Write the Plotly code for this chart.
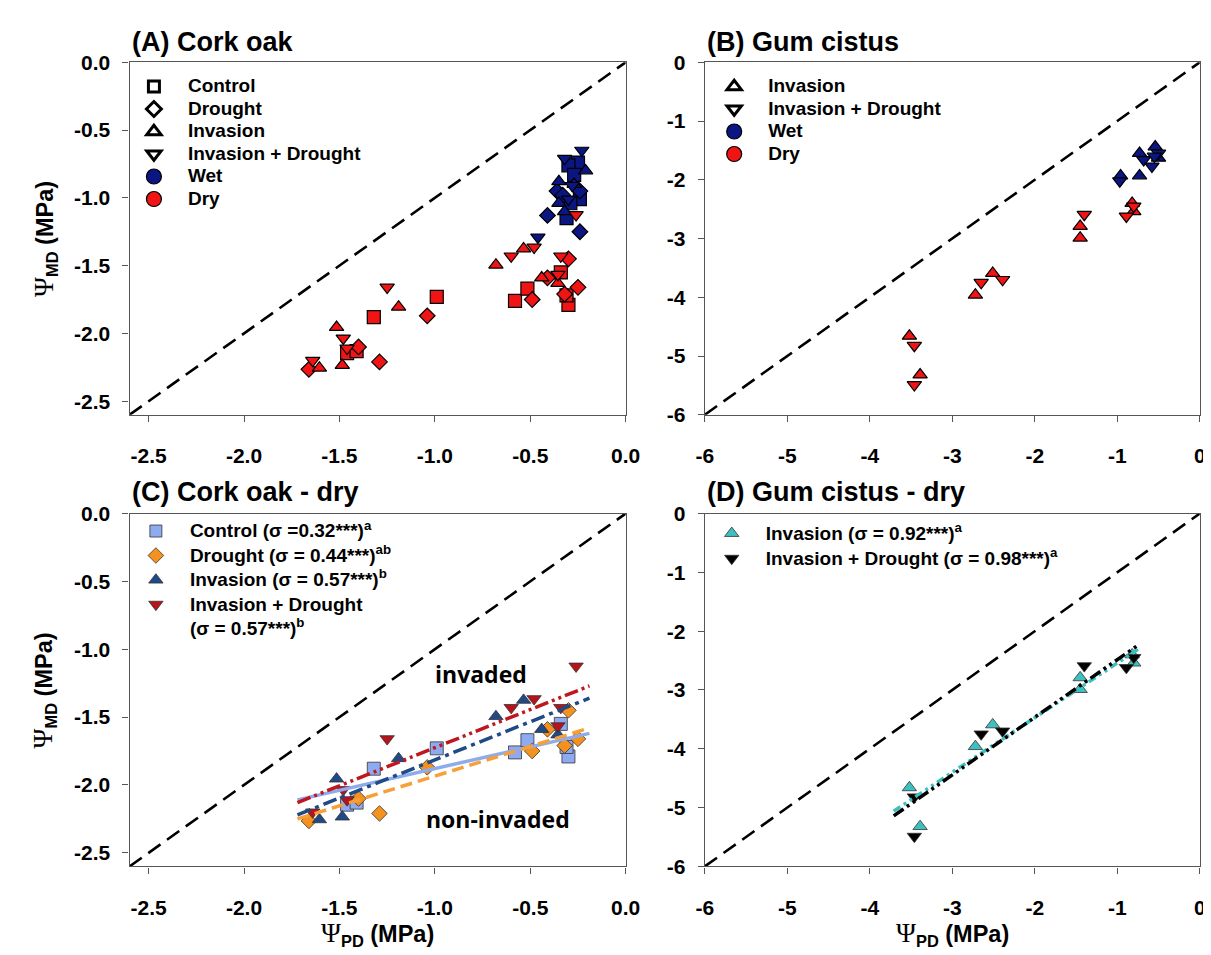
import plotly.graph_objects as go

FONT = "Liberation Sans, Arial, sans-serif"
W, H = 1211, 955

# ---------------- data ----------------
# 1:1 reference lines
ref_cork = [-2.6, 0.0]
ref_gum = [-6.0, 0.0]

# tick values / labels
cork_ticks = [-2.5, -2.0, -1.5, -1.0, -0.5, 0.0]
cork_ticktext = ["-2.5", "-2.0", "-1.5", "-1.0", "-0.5", "0.0"]
gum_ticks = [-6, -5, -4, -3, -2, -1, 0]
gum_ticktext = ["-6", "-5", "-4", "-3", "-2", "-1", "0"]

# Cork oak, wet season
cork_wet_control_x = [-0.25, -0.30, -0.27, -0.24, -0.29, -0.31]
cork_wet_control_y = [-0.74, -0.76, -0.83, -1.01, -1.04, -1.15]
cork_wet_drought_x = [-0.36, -0.33, -0.24, -0.41, -0.24]
cork_wet_drought_y = [-0.95, -0.98, -0.95, -1.13, -1.25]
cork_wet_invasion_x = [-0.21, -0.35, -0.35, -0.32, -0.27]
cork_wet_invasion_y = [-0.80, -0.88, -1.04, -1.10, -0.90]
cork_wet_invdrought_x = [-0.23, -0.32, -0.28, -0.46, -0.30]
cork_wet_invdrought_y = [-0.65, -0.71, -0.91, -1.29, -1.01]

# Cork oak, dry season
cork_dry_control_x = [-0.99, -1.32, -1.46, -1.41, -0.58, -0.515, -0.34, -0.30, -0.31]
cork_dry_control_y = [-1.73, -1.88, -2.145, -2.13, -1.76, -1.67, -1.55, -1.79, -1.72]
cork_dry_drought_x = [-1.04, -1.40, -1.29, -1.66, -0.30, -0.41, -0.49, -0.32, -0.25]
cork_dry_drought_y = [-1.87, -2.10, -2.21, -2.265, -1.45, -1.59, -1.75, -1.71, -1.66]
cork_dry_invasion_x = [-1.19, -1.515, -1.485, -1.605, -0.68, -0.535, -0.44, -0.355]
cork_dry_invasion_y = [-1.805, -1.955, -2.235, -2.255, -1.495, -1.375, -1.59, -1.63]
cork_dry_invdrought_x = [-1.25, -1.48, -1.46, -1.64, -0.26, -0.60, -0.48, -0.34, -0.355]
cork_dry_invdrought_y = [-1.66, -2.035, -2.11, -2.20, -1.125, -1.43, -1.365, -1.43, -1.565]

# Gum cistus, wet season
gum_wet_invasion_x = [-0.54, -0.73, -0.50, -0.73, -0.96]
gum_wet_invasion_y = [-1.44, -1.55, -1.63, -1.93, -1.93]
gum_wet_invdrought_x = [-0.50, -0.68, -0.58, -0.97, -0.55]
gum_wet_invdrought_y = [-1.55, -1.66, -1.77, -2.02, -1.60]

# Gum cistus, dry season
gum_dry_invasion_x = [-0.82, -0.80, -1.45, -1.45, -2.51, -2.72, -3.52, -3.39]
gum_dry_invasion_y = [-2.40, -2.54, -2.79, -2.99, -3.59, -3.96, -4.66, -5.32]
gum_dry_invdrought_x = [-0.80, -0.89, -1.40, -2.39, -2.65, -3.46, -3.46]
gum_dry_invdrought_y = [-2.45, -2.62, -2.59, -3.70, -3.75, -4.82, -5.49]

# regression line end points (panel C, D)
C_fit_x = [-1.72, -0.19]
C_fit_control_y = [-2.11, -1.62]
C_fit_drought_y = [-2.25, -1.58]
C_fit_invasion_y = [-2.22, -1.36]
C_fit_invdrought_y = [-2.13, -1.27]
D_fit_x = [-3.71, -0.75]
D_fit_invasion_y = [-5.06, -2.31]
D_fit_invdrought_y = [-5.14, -2.24]

# ---------------- style ----------------
NAVY = "#0b1683"
RED = "#f01414"
C_CTRL = "#8eaaf0"
C_DROUGHT = "#f5921e"
C_INV = "#1f4a85"
C_INVD = "#b8121c"
L_CTRL = "#8eacec"
L_DROUGHT = "#f7a03a"
L_INV = "#1f4a85"
L_INVD = "#c0161e"
CYAN = "#3cc0c0"

SYM = {"control": "square", "drought": "diamond", "invasion": "triangle-up", "invdrought": "triangle-down"}
SIZE = {"control": 13, "drought": 12, "invasion": 12.5, "invdrought": 12.5}

fig = go.Figure()


def pts(x, y, sym, color, xa, ya, lw=1.2, lc="black"):
    fig.add_trace(go.Scatter(
        x=x, y=y, mode="markers", xaxis=xa, yaxis=ya, showlegend=False,
        marker=dict(symbol=SYM[sym], size=SIZE[sym], color=color, line=dict(color=lc, width=lw)),
        hoverinfo="skip"))


def line(x, y, color, dash, width, xa, ya):
    fig.add_trace(go.Scatter(x=x, y=y, mode="lines", xaxis=xa, yaxis=ya, showlegend=False,
                             line=dict(color=color, dash=dash, width=width), hoverinfo="skip"))


def leg(name, legend, symbol, color, size, lc="black", lw=1.2):
    fig.add_trace(go.Scatter(
        x=[None], y=[None], mode="markers", legend=legend,
        name="<span style='font-size:19px'>%s</span>" % name,
        marker=dict(symbol=symbol, size=size, color=color, line=dict(color=lc, width=lw))))


# 1:1 lines
line(ref_cork, ref_cork, "black", "15px,8px", 2.6, "x", "y")
line(ref_gum, ref_gum, "black", "15px,8px", 2.6, "x2", "y2")
line(ref_cork, ref_cork, "black", "15px,8px", 2.6, "x3", "y3")
line(ref_gum, ref_gum, "black", "15px,8px", 2.6, "x4", "y4")

# Panel A
pts(cork_wet_control_x, cork_wet_control_y, "control", NAVY, "x", "y")
pts(cork_wet_drought_x, cork_wet_drought_y, "drought", NAVY, "x", "y")
pts(cork_wet_invasion_x, cork_wet_invasion_y, "invasion", NAVY, "x", "y")
pts(cork_wet_invdrought_x, cork_wet_invdrought_y, "invdrought", NAVY, "x", "y")
pts(cork_dry_control_x, cork_dry_control_y, "control", RED, "x", "y")
pts(cork_dry_drought_x, cork_dry_drought_y, "drought", RED, "x", "y")
pts(cork_dry_invasion_x, cork_dry_invasion_y, "invasion", RED, "x", "y")
pts(cork_dry_invdrought_x, cork_dry_invdrought_y, "invdrought", RED, "x", "y")

# Panel B
pts(gum_wet_invasion_x, gum_wet_invasion_y, "invasion", NAVY, "x2", "y2")
pts(gum_wet_invdrought_x, gum_wet_invdrought_y, "invdrought", NAVY, "x2", "y2")
pts(gum_dry_invasion_x, gum_dry_invasion_y, "invasion", RED, "x2", "y2")
pts(gum_dry_invdrought_x, gum_dry_invdrought_y, "invdrought", RED, "x2", "y2")

# Panel C
pts(cork_dry_control_x, cork_dry_control_y, "control", C_CTRL, "x3", "y3", 0.8, "#333")
pts(cork_dry_drought_x, cork_dry_drought_y, "drought", C_DROUGHT, "x3", "y3", 0.8, "#333")
pts(cork_dry_invasion_x, cork_dry_invasion_y, "invasion", C_INV, "x3", "y3", 0.8, "#333")
pts(cork_dry_invdrought_x, cork_dry_invdrought_y, "invdrought", C_INVD, "x3", "y3", 0.8, "#333")
line(C_fit_x, C_fit_control_y, L_CTRL, "solid", 3.5, "x3", "y3")
line(C_fit_x, C_fit_drought_y, L_DROUGHT, "12px,6px", 3.5, "x3", "y3")
line(C_fit_x, C_fit_invasion_y, L_INV, "14px,5px,4px,5px", 3.5, "x3", "y3")
line(C_fit_x, C_fit_invdrought_y, L_INVD, "14px,4px,3px,4px,3px,4px", 3.5, "x3", "y3")

# Panel D
pts(gum_dry_invasion_x, gum_dry_invasion_y, "invasion", CYAN, "x4", "y4", 0.8, "#333")
pts(gum_dry_invdrought_x, gum_dry_invdrought_y, "invdrought", "black", "x4", "y4", 0.8, "#333")
line(D_fit_x, D_fit_invasion_y, CYAN, "8px,4px,3px,4px,3px,4px", 3.5, "x4", "y4")
line(D_fit_x, D_fit_invdrought_y, "black", "12px,4px,3px,4px,3px,4px", 3.5, "x4", "y4")

# Legends
leg("Control", "legend", "square", "white", 11, lw=3)
leg("Drought", "legend", "diamond", "white", 11.5, lw=3)
leg("Invasion", "legend", "triangle-up", "white", 12.5, lw=3)
leg("Invasion + Drought", "legend", "triangle-down", "white", 12.5, lw=3)
leg("Wet", "legend", "circle", NAVY, 15)
leg("Dry", "legend", "circle", RED, 15)

leg("Invasion", "legend2", "triangle-up", "white", 12.5, lw=3)
leg("Invasion + Drought", "legend2", "triangle-down", "white", 12.5, lw=3)
leg("Wet", "legend2", "circle", NAVY, 15)
leg("Dry", "legend2", "circle", RED, 15)

leg("Control (σ =0.32***)<sup>a</sup>", "legend3", "square", C_CTRL, 12, "#333", 0.8)
leg("Drought (σ = 0.44***)<sup>ab</sup>", "legend3", "diamond", C_DROUGHT, 12, "#333", 0.8)
leg("Invasion (σ = 0.57***)<sup>b</sup>", "legend3", "triangle-up", C_INV, 12.5, "#333", 0.8)
leg("Invasion + Drought", "legend3", "triangle-down", C_INVD, 12.5, "#333", 0.8)
leg("(σ = 0.57***)<sup>b</sup>", "legend3", "circle", "rgba(0,0,0,0)", 1, "rgba(0,0,0,0)", 0)

leg("Invasion (σ = 0.92***)<sup>a</sup>", "legend4", "triangle-up", CYAN, 12.5, "#333", 0.8)
leg("Invasion + Drought (σ = 0.98***)<sup>a</sup>", "legend4", "triangle-down", "black", 12.5, "#333", 0.8)

# ---------------- layout ----------------
XL = [114.8 / W, 621 / W]
XR = [701.7 / W, 1206.7 / W]
YT = [1 - 404.5 / H, 1 - 43.3 / H]
YB = [1 - 867.3 / H, 1 - 505.7 / H]


def ax(domain, rng, tv, tt, anchor, standoff):
    return dict(domain=domain, range=rng, autorange=False, tickvals=tv, ticktext=tt,
                anchor=anchor, showline=True, linecolor="#555555", linewidth=1.3, mirror=True,
                ticks="outside", ticklen=6, tickwidth=1.3, tickcolor="#555555",
                showgrid=False, zeroline=False, ticklabelstandoff=standoff,
                tickfont=dict(family=FONT, size=21, color="black", weight="bold"))


def legfont(s):
    return dict(family=FONT, size=s, color="black", weight="bold")


leg_common = dict(bgcolor="rgba(0,0,0,0)", borderwidth=0, xanchor="left", yanchor="top",
                  itemwidth=58, tracegroupgap=0)

fig.update_layout(
    width=W, height=H, margin=dict(l=0, r=0, t=0, b=0),
    paper_bgcolor="white", plot_bgcolor="white",
    xaxis=ax(XL, [-2.6, 0], cork_ticks, cork_ticktext, "y", 16),
    yaxis=ax(YT, [-2.6, 0], cork_ticks, cork_ticktext, "x", 8),
    xaxis2=ax(XR, [-6, 0], gum_ticks, gum_ticktext, "y2", 16),
    yaxis2=ax(YT, [-6, 0], gum_ticks, gum_ticktext, "x2", 8),
    xaxis3=ax(XL, [-2.6, 0], cork_ticks, cork_ticktext, "y3", 16),
    yaxis3=ax(YB, [-2.6, 0], cork_ticks, cork_ticktext, "x3", 8),
    xaxis4=ax(XR, [-6, 0], gum_ticks, gum_ticktext, "y4", 16),
    yaxis4=ax(YB, [-6, 0], gum_ticks, gum_ticktext, "x4", 8),
    legend=dict(leg_common, x=105 / W, y=1 - 51.5 / H, font=legfont(15)),
    legend2=dict(leg_common, x=697 / W, y=1 - 51.5 / H, font=legfont(15)),
    legend3=dict(leg_common, x=107 / W, y=1 - 506 / H, font=legfont(16.5)),
    legend4=dict(leg_common, x=694.5 / W, y=1 - 508 / H, font=legfont(17)),
    showlegend=True,
)

# panel titles
TF = dict(family=FONT, size=27, color="black", weight="bold")
titles = [("(A) Cork oak", XL[0], 1 - 22.3 / H), ("(B) Gum cistus", XR[0], 1 - 22.3 / H),
          ("(C) Cork oak - dry", XL[0], 1 - 484 / H), ("(D) Gum cistus - dry", XR[0], 1 - 484 / H)]
for t, x, y in titles:
    fig.add_annotation(text=t, x=x, y=y, xref="paper", yref="paper", xanchor="left", yanchor="middle",
                       showarrow=False, font=TF)

# axis titles: serif Psi + bold subscript/unit
PSI = "<span style='font-family:Liberation Serif, serif;font-weight:normal;font-size:27px'>Ψ</span>"
AF = dict(family=FONT, size=23.5, color="black", weight="bold")
for yc in [(YT[0] + YT[1]) / 2, (YB[0] + YB[1]) / 2]:
    fig.add_annotation(text=PSI + "<sub>MD</sub> (MPa)", x=28 / W, y=yc, xref="paper", yref="paper",
                       textangle=-90, showarrow=False, font=AF, xanchor="center", yanchor="middle")
for xc in [(XL[0] + XL[1]) / 2, (XR[0] + XR[1]) / 2]:
    fig.add_annotation(text=PSI + "<sub>PD</sub> (MPa)", x=xc, y=1 - 937 / H, xref="paper", yref="paper",
                       showarrow=False, font=AF, xanchor="center", yanchor="middle")

NF = dict(family="Open Sans, sans-serif", size=23, color="black", weight="bold")
fig.add_annotation(text="invaded", x=-0.756, y=-1.18, xref="x3", yref="y3", showarrow=False, font=NF)
fig.add_annotation(text="non-invaded", x=-0.668, y=-2.25, xref="x3", yref="y3", showarrow=False, font=NF)

fig.write_html("out.html")
